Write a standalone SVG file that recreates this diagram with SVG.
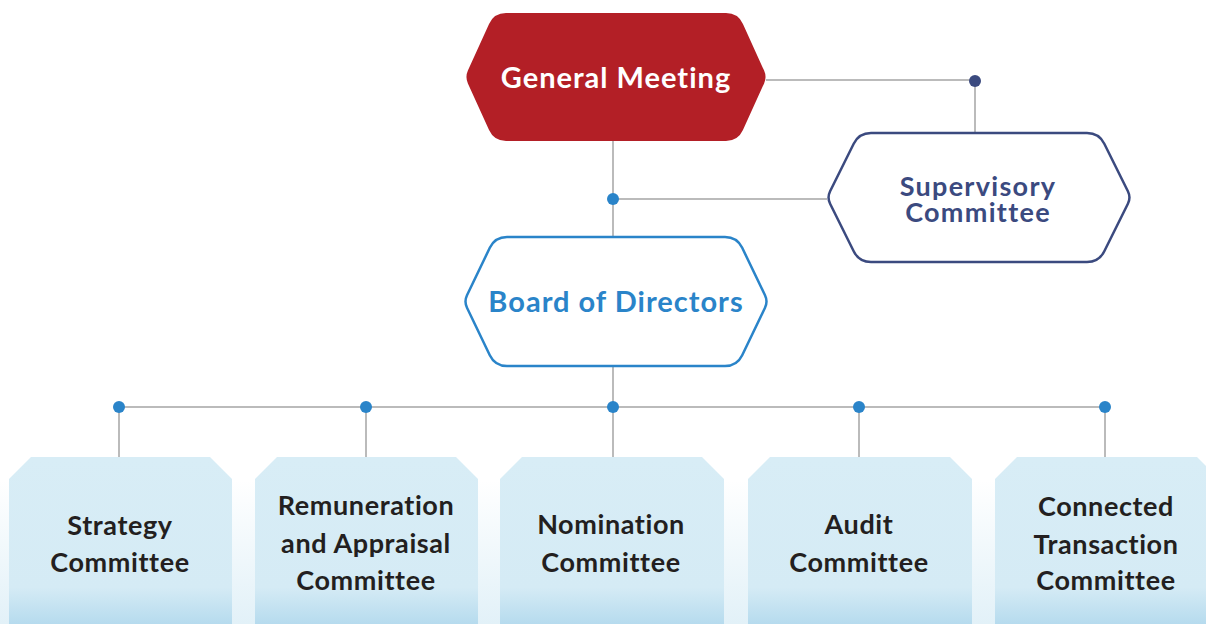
<svg xmlns="http://www.w3.org/2000/svg" width="1206" height="624" viewBox="0 0 1206 624">
  <defs>
    <linearGradient id="floor" x1="0" y1="480" x2="0" y2="624" gradientUnits="userSpaceOnUse">
      <stop offset="0" stop-color="#ffffff"/>
      <stop offset="1" stop-color="#e2f1f8"/>
    </linearGradient>
    <linearGradient id="boxFill" x1="0" y1="457" x2="0" y2="624" gradientUnits="userSpaceOnUse">
      <stop offset="0" stop-color="#d8edf6"/>
      <stop offset="0.78" stop-color="#d5ebf5"/>
      <stop offset="1" stop-color="#b6dbee"/>
    </linearGradient>
  </defs>
  <style>
    .wire { stroke: #a5a5a5; stroke-width: 1.5; fill: none; }
    .dot { fill: #2a84c9; }
    .dot-navy { fill: #3b4a7f; }
    .t { font-family: Lato, "Noto Sans", "Liberation Sans", sans-serif; font-weight: 700; text-anchor: middle; }
    .head { font-size: 29px; letter-spacing: 1px; }
    .sv { font-size: 27px; letter-spacing: 1.3px; fill: #3b4a7f; }
    .sub { font-size: 27px; letter-spacing: 0.6px; fill: #231f20; }
    .box { fill: url(#boxFill); }
  </style>

  <rect width="1206" height="624" fill="#ffffff"/>
  <rect x="0" y="480" width="1206" height="144" fill="url(#floor)"/>

  <!-- connectors -->
  <g id="connectors">
    <line class="wire" x1="613" y1="141" x2="613" y2="237"/>
    <line class="wire" x1="766" y1="80" x2="975" y2="80"/>
    <line class="wire" x1="975" y1="80" x2="975" y2="133"/>
    <line class="wire" x1="613" y1="199" x2="827" y2="199"/>
    <line class="wire" x1="613" y1="366" x2="613" y2="407"/>
    <line class="wire" x1="119" y1="407" x2="1105" y2="407"/>
    <line class="wire" x1="119" y1="407" x2="119" y2="457"/>
    <line class="wire" x1="366" y1="407" x2="366" y2="457"/>
    <line class="wire" x1="613" y1="407" x2="613" y2="457"/>
    <line class="wire" x1="859" y1="407" x2="859" y2="457"/>
    <line class="wire" x1="1105" y1="407" x2="1105" y2="457"/>
    <circle class="dot-navy" cx="975" cy="81" r="6"/>
    <circle class="dot" cx="613" cy="199" r="6"/>
    <circle class="dot" cx="119" cy="407" r="6"/>
    <circle class="dot" cx="366" cy="407" r="6"/>
    <circle class="dot" cx="613" cy="407" r="6"/>
    <circle class="dot" cx="859" cy="407" r="6"/>
    <circle class="dot" cx="1105" cy="407" r="6"/>
  </g>

  <!-- top level -->
  <g id="general-meeting">
    <path d="M467.9,83.4 Q465,77 467.9,70.6 L489.05,23.9 Q494,13 506,13 L726,13 Q738,13 742.95,23.9 L764.1,70.6 Q767,77 764.1,83.4 L742.95,130.1 Q738,141 726,141 L506,141 Q494,141 489.05,130.1 Z" fill="#b31f26"/>
    <text class="t head" x="616" y="88" fill="#ffffff">General Meeting</text>
  </g>

  <g id="supervisory-committee">
    <path d="M830.1,203.8 Q827,197.5 830.1,191.2 L853.7,143.75 Q859,133 871,133 L1087,133 Q1099,133 1104.3,143.75 L1127.9,191.2 Q1131,197.5 1127.9,203.8 L1104.3,251.25 Q1099,262 1087,262 L871,262 Q859,262 853.7,251.25 Z" fill="#ffffff" stroke="#3b4a7f" stroke-width="2.5"/>
    <text class="t sv" x="978" y="196">Supervisory</text>
    <text class="t sv" x="978" y="222">Committee</text>
  </g>

  <g id="board-of-directors">
    <path d="M467,307.8 Q464,301.5 467,295.2 L489.8,247.8 Q495,237 507,237 L725,237 Q737,237 742.2,247.8 L765,295.2 Q768,301.5 765,307.8 L742.2,355.2 Q737,366 725,366 L507,366 Q495,366 489.8,355.2 Z" fill="#ffffff" stroke="#2a84c9" stroke-width="2.5"/>
    <text class="t head" x="616" y="312" fill="#2a84c9">Board of Directors</text>
  </g>

  <!-- committees -->
  <g id="strategy-committee">
    <polygon class="box" points="9,479 31,457 210,457 232,479 232,624 9,624"/>
    <text class="t sub" x="120" y="535">Strategy</text>
    <text class="t sub" x="120" y="572">Committee</text>
  </g>

  <g id="remuneration-committee">
    <polygon class="box" points="255,479 277,457 456,457 478,479 478,624 255,624"/>
    <text class="t sub" x="366" y="515">Remuneration</text>
    <text class="t sub" x="366" y="553">and Appraisal</text>
    <text class="t sub" x="366" y="590">Committee</text>
  </g>

  <g id="nomination-committee">
    <polygon class="box" points="500,479 522,457 702,457 724,479 724,624 500,624"/>
    <text class="t sub" x="611" y="534">Nomination</text>
    <text class="t sub" x="611" y="572">Committee</text>
  </g>

  <g id="audit-committee">
    <polygon class="box" points="748,479 770,457 950,457 972,479 972,624 748,624"/>
    <text class="t sub" x="859" y="534">Audit</text>
    <text class="t sub" x="859" y="572">Committee</text>
  </g>

  <g id="connected-transaction-committee">
    <polygon class="box" points="995,479 1017,457 1197,457 1219,479 1219,624 995,624"/>
    <text class="t sub" x="1106" y="516">Connected</text>
    <text class="t sub" x="1106" y="554">Transaction</text>
    <text class="t sub" x="1106" y="590">Committee</text>
  </g>
</svg>
